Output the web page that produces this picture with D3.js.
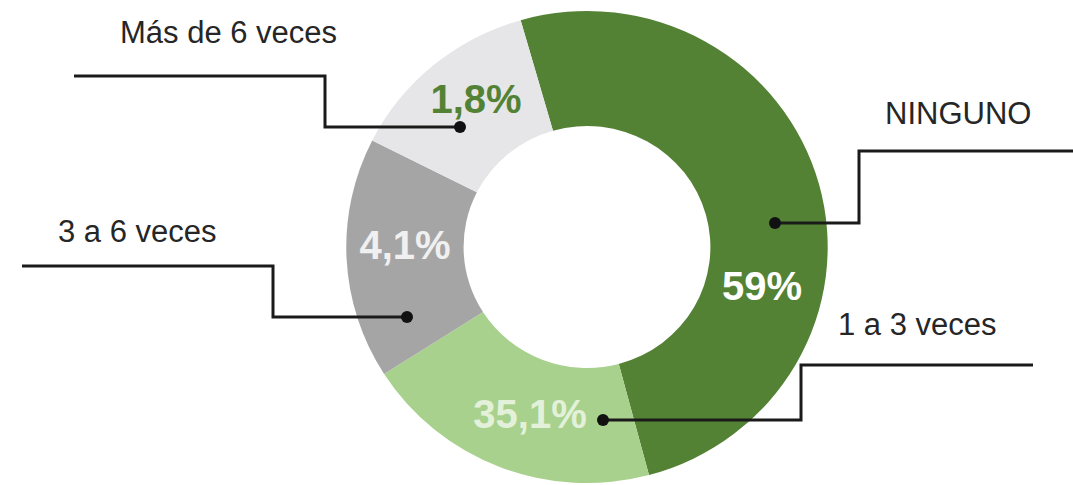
<!DOCTYPE html>
<html>
<head>
<meta charset="utf-8">
<script src="https://cdn.jsdelivr.net/npm/d3@7"></script>
<style>
  html, body { margin: 0; padding: 0; background: #ffffff; }
  svg { display: block; }
</style>
</head>
<body>
<svg id="chart" width="1073" height="485"></svg>
<script>
// Categories, in drawing order (clockwise, starting near 12 o'clock)
const categories = ["NINGUNO", "1 a 3 veces", "3 a 6 veces", "Más de 6 veces"];
// Published percentages (shown as labels)
const percentValues = [59, 35.1, 4.1, 1.8];
const percentLabels = ["59%", "35,1%", "4,1%", "1,8%"];
// Slice shares as drawn in the reference picture (estimated from the arcs)
const sliceShares = [50.3, 20.1, 16.5, 13.1];
const sliceColors = ["#548235", "#A9D18E", "#A5A5A5", "#E6E6E8"];
const labelColors = ["#ffffff", "#E4F1DA", "#F0F0F0", "#548235"];

const svg = d3.select("#chart");
const cx = 587, cy = 247;
const outerR = 236, innerR = 121;
const startDeg = -16;

const pie = d3.pie()
  .sort(null)
  .value(d => d.share)
  .startAngle(startDeg * Math.PI / 180)
  .endAngle((startDeg + 360) * Math.PI / 180);

const data = categories.map((c, i) => ({
  cat: c, share: sliceShares[i], pct: percentValues[i],
  label: percentLabels[i], color: sliceColors[i], lcolor: labelColors[i]
}));
const arcs = pie(data);
const arc = d3.arc().innerRadius(innerR).outerRadius(outerR);

const g = svg.append("g").attr("transform", `translate(${cx},${cy}) scale(1.02,1)`);
g.selectAll("path.slice")
  .data(arcs)
  .join("path")
  .attr("class", "slice")
  .attr("d", arc)
  .attr("fill", d => d.data.color);

// Percentage labels and leader anchor points, placed relative to each slice
// (offsets in px from the chart centre, as a layout description)
const labelPos = {
  "NINGUNO":       { tx: 175, ty: 53,  dot: [188, -24] },
  "1 a 3 veces":   { tx: -57, ty: 181, dot: [16, 175] },
  "3 a 6 veces":   { tx: -182, ty: 12, dot: [-180, 70] },
  "Más de 6 veces":{ tx: -111, ty: -134, dot: [-127, -120] }
};
const leaderPos = {
  "NINGUNO":       { text: [885, 124], path: [[1073, 151], [859, 151], [859, 223]] },
  "1 a 3 veces":   { text: [838, 335], path: [[1033, 365], [801, 365], [801, 420]] },
  "3 a 6 veces":   { text: [58, 242],  path: [[22, 266], [273, 266], [273, 317]] },
  "Más de 6 veces":{ text: [120, 43],  path: [[74, 76], [325, 76], [325, 127]] }
};

svg.selectAll("text.pct")
  .data(arcs)
  .join("text")
  .attr("class", "pct")
  .attr("x", d => cx + labelPos[d.data.cat].tx)
  .attr("y", d => cy + labelPos[d.data.cat].ty)
  .attr("text-anchor", "middle")
  .attr("font-family", "'Liberation Sans', Arial, sans-serif")
  .attr("font-weight", "bold")
  .attr("font-size", 40)
  .attr("fill", d => d.data.lcolor)
  .text(d => d.data.label);

// Leader lines
const lines = svg.append("g");
arcs.forEach(d => {
  const p = leaderPos[d.data.cat];
  const dot = labelPos[d.data.cat].dot;
  const dp = [cx + dot[0], cy + dot[1]];
  const pts = p.path.concat([[dp[0], p.path[2][1]], dp]);
  lines.append("path")
    .attr("d", d3.line()(pts.slice(0, 4)))
    .attr("fill", "none")
    .attr("stroke", "#1a1a1a")
    .attr("stroke-width", 3);
  lines.append("circle")
    .attr("cx", dp[0]).attr("cy", p.path[2][1])
    .attr("r", 6)
    .attr("fill", "#111");
  svg.append("text")
    .attr("x", p.text[0]).attr("y", p.text[1])
    .attr("font-family", "'Liberation Sans', Arial, sans-serif")
    .attr("font-size", 31)
    .attr("fill", "#262626")
    .text(d.data.cat);
});
</script>
</body>
</html>
